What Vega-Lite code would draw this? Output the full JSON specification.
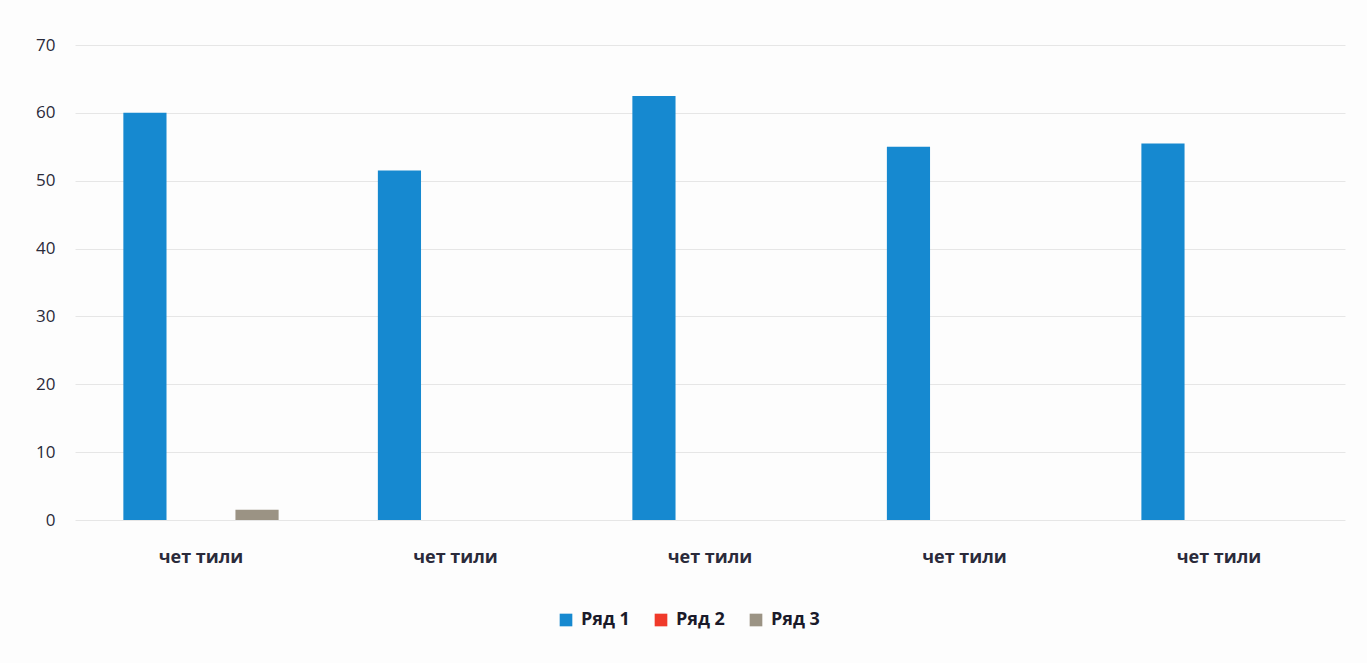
{
  "$schema": "https://vega.github.io/schema/vega-lite/v6.json",
  "width": 1270,
  "height": 475,
  "autosize": {"type": "none"},
  "padding": {"left": 75, "top": 45, "right": 22, "bottom": 143},
  "background": "#fdfdfd",
  "config": {
    "view": {"stroke": null},
    "font": "Open Sans"
  },
  "data": {
    "values": [
      {"cat": "1", "series": "Ряд 1", "value": 60},
      {"cat": "1", "series": "Ряд 2", "value": 0},
      {"cat": "1", "series": "Ряд 3", "value": 1.5},
      {"cat": "2", "series": "Ряд 1", "value": 51.5},
      {"cat": "2", "series": "Ряд 2", "value": 0},
      {"cat": "2", "series": "Ряд 3", "value": 0},
      {"cat": "3", "series": "Ряд 1", "value": 62.5},
      {"cat": "3", "series": "Ряд 2", "value": 0},
      {"cat": "3", "series": "Ряд 3", "value": 0},
      {"cat": "4", "series": "Ряд 1", "value": 55},
      {"cat": "4", "series": "Ряд 2", "value": 0},
      {"cat": "4", "series": "Ряд 3", "value": 0},
      {"cat": "5", "series": "Ряд 1", "value": 55.5},
      {"cat": "5", "series": "Ряд 2", "value": 0},
      {"cat": "5", "series": "Ряд 3", "value": 0}
    ]
  },
  "mark": {"type": "bar"},
  "encoding": {
    "x": {
      "field": "cat",
      "type": "nominal",
      "scale": {"paddingInner": 0.39, "paddingOuter": 0.19},
      "axis": {
        "title": null,
        "labelAngle": 0,
        "labelExpr": "'чет тили'",
        "labelFontSize": 18,
        "labelFontWeight": "bold",
        "labelColor": "#2a2a3a",
        "labelPadding": 28,
        "ticks": false,
        "domain": false
      }
    },
    "xOffset": {
      "field": "series",
      "type": "nominal",
      "scale": {"paddingInner": 0.23}
    },
    "y": {
      "field": "value",
      "type": "quantitative",
      "scale": {"domain": [0, 70], "nice": false},
      "axis": {
        "title": null,
        "values": [0, 10, 20, 30, 40, 50, 60, 70],
        "labelFontSize": 17,
        "labelColor": "#2a2a3a",
        "labelPadding": 20,
        "ticks": false,
        "domain": false,
        "gridColor": "#e6e6e6",
        "gridWidth": 1
      }
    },
    "color": {
      "field": "series",
      "type": "nominal",
      "scale": {
        "domain": ["Ряд 1", "Ряд 2", "Ряд 3"],
        "range": ["#1689d0", "#f03a2a", "#9b9384"]
      },
      "legend": {
        "title": null,
        "orient": "none",
        "direction": "horizontal",
        "legendX": 482,
        "legendY": 566,
        "symbolType": "square",
        "symbolSize": 160,
        "labelFontSize": 18,
        "labelFontWeight": "bold",
        "labelColor": "#1a1a2a",
        "columnPadding": 22,
        "labelOffset": 6
      }
    }
  }
}
